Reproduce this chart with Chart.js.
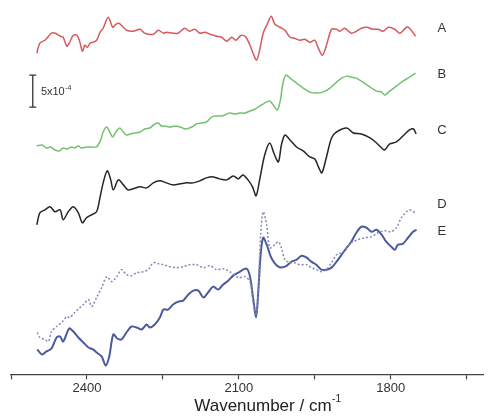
<!DOCTYPE html>
<html>
<head>
<meta charset="utf-8">
<script src="https://cdn.jsdelivr.net/npm/chart.js@4.4.1/dist/chart.umd.min.js"></script>
<style>
  html, body { margin: 0; padding: 0; background: #fff; }
  #wrap { width: 489px; height: 416px; position: relative; }
</style>
</head>
<body>
<div id="wrap"><canvas id="spectra"></canvas></div>
<script>
// wavenumber (cm-1), offset signal (a.u.; the scale bar = 32 a.u. = 5x10^-4)
const traceA = [[2499,322],[2493,332],[2483,335],[2470,342],[2463,342],[2453,339],[2447,338],[2440,329],[2434,333],[2427,340],
  [2420,340],[2415,335],[2409,324],[2404,330],[2399,328],[2394,332],[2388,333],[2381,335],[2374,343],[2368,347],
  [2358,358],[2349,348],[2343,351],[2337,352],[2328,348],[2322,345],[2309,344],[2295,346],[2286,342],[2269,341],
  [2259,345],[2249,342],[2243,343],[2230,342],[2220,342],[2207,347],[2197,344],[2187,346],[2177,342],[2167,343],
  [2157,341],[2144,339],[2134,338],[2124,334],[2114,338],[2106,335],[2095,340],[2086,338],[2078,330],[2072,322],
  [2065,315],[2059,325],[2052,342],[2045,350],[2036,359],[2029,351],[2019,348],[2009,345],[1999,338],[1990,337],
  [1980,335],[1970,336],[1960,333],[1950,335],[1944,328],[1935,320],[1927,330],[1917,346],[1907,346],[1901,344],
  [1891,347],[1878,342],[1868,344],[1858,347],[1847,348],[1836,346],[1825,346],[1815,344],[1805,348],[1792,346],
  [1782,342],[1769,348],[1763,347],[1751,339]];

const traceB = [[2499,229],[2489,230],[2480,227],[2472,228],[2463,225],[2455,224],[2447,227],[2439,226],[2430,228],[2424,227],
  [2417,229],[2411,227],[2401,228],[2391,228],[2381,228],[2373,235],[2368,243],[2361,248],[2355,243],[2349,238],
  [2343,243],[2335,247],[2328,243],[2322,240],[2315,241],[2305,242],[2295,243],[2286,246],[2276,247],[2266,251],
  [2259,252],[2253,249],[2246,249],[2236,248],[2226,249],[2216,248],[2205,246],[2193,248],[2184,251],[2174,252],
  [2164,253],[2154,258],[2144,259],[2134,259],[2128,260],[2118,262],[2108,261],[2098,262],[2088,262],[2078,264],
  [2068,266],[2059,269],[2049,272],[2039,274],[2032,270],[2024,265],[2018,275],[2013,292],[2007,300],[1999,297],
  [1986,292],[1973,287],[1960,283],[1947,282],[1934,283],[1920,287],[1907,293],[1897,297],[1887,299],[1878,298],
  [1868,297],[1855,293],[1841,288],[1828,284],[1818,283],[1812,280],[1802,284],[1789,289],[1776,294],[1763,298],
  [1751,302]];

const traceC = [[2499,150],[2493,162],[2483,165],[2473,168],[2463,163],[2453,165],[2447,155],[2437,163],[2427,168],[2417,162],
  [2409,152],[2401,157],[2391,160],[2381,163],[2374,178],[2368,192],[2360,204],[2353,195],[2348,185],[2338,195],
  [2328,190],[2319,185],[2309,186],[2295,188],[2282,187],[2269,192],[2256,194],[2243,192],[2230,190],[2216,191],
  [2203,192],[2190,192],[2177,194],[2164,197],[2151,198],[2138,196],[2124,195],[2111,199],[2101,196],[2092,200],
  [2082,195],[2073,188],[2066,179],[2059,195],[2049,220],[2039,232],[2031,222],[2022,213],[2016,230],[2009,240],
  [1999,235],[1986,228],[1973,224],[1960,218],[1950,216],[1942,207],[1936,202],[1927,218],[1917,237],[1907,243],
  [1887,247],[1874,242],[1858,241],[1841,237],[1828,232],[1816,226],[1812,225],[1802,231],[1789,233],[1776,239],
  [1763,245],[1755,246],[1750,241]];

const traceD = [[2498,42],[2493,37],[2483,35],[2476,33],[2470,43],[2460,48],[2450,52],[2440,58],[2434,57],[2424,62],
  [2414,67],[2407,70],[2397,75],[2391,68],[2381,77],[2371,87],[2361,98],[2351,93],[2341,98],[2332,105],
  [2322,100],[2312,99],[2302,102],[2289,103],[2279,105],[2269,112],[2259,111],[2249,110],[2236,108],[2223,107],
  [2210,108],[2197,110],[2184,110],[2170,107],[2157,109],[2144,105],[2131,106],[2118,103],[2101,97],[2088,98],
  [2078,93],[2072,73],[2066,57],[2062,83],[2057,140],[2052,163],[2045,150],[2039,127],[2029,130],[2022,133],
  [2016,127],[2009,115],[1999,112],[1990,112],[1980,110],[1966,110],[1957,107],[1947,105],[1937,103],[1927,105],
  [1917,112],[1907,120],[1897,122],[1887,127],[1878,132],[1865,135],[1851,137],[1838,138],[1825,142],[1812,144],
  [1799,143],[1789,147],[1779,157],[1769,163],[1763,165],[1756,163],[1751,162]];

const traceE = [[2498,25],[2489,20],[2480,23],[2470,26],[2460,37],[2453,38],[2447,33],[2435,46],[2427,43],[2417,37],
  [2407,32],[2397,27],[2388,25],[2381,22],[2371,18],[2363,9],[2356,18],[2348,40],[2340,36],[2332,35],
  [2322,42],[2312,48],[2302,47],[2292,45],[2282,50],[2276,47],[2266,50],[2256,57],[2249,65],[2240,65],
  [2230,70],[2220,73],[2210,74],[2200,80],[2190,84],[2180,84],[2170,77],[2161,82],[2151,88],[2141,85],
  [2131,90],[2121,94],[2111,99],[2101,102],[2085,106],[2078,98],[2072,77],[2066,58],[2062,80],[2057,120],
  [2052,137],[2045,130],[2036,117],[2022,108],[2009,108],[1996,113],[1986,115],[1976,119],[1966,117],[1957,113],
  [1947,110],[1937,105],[1927,105],[1917,107],[1907,113],[1897,120],[1887,127],[1878,133],[1868,142],[1858,148],
  [1848,147],[1838,143],[1828,145],[1818,140],[1809,133],[1799,128],[1792,125],[1786,130],[1776,131],[1766,137],
  [1756,143],[1749,145]];

const seriesNames = ['A', 'B', 'C', 'D', 'E'];
const seriesColors = ['#d65a5c', '#72c272', '#262626', '#8189b6', '#4c5a9c'];
const tickValues = [2550, 2400, 2250, 2100, 1950, 1800, 1650];
const tickLabels = [2400, 2100, 1800];
const scaleBar = [[2507, 268], [2507, 300]];
const axisTitle = 'Wavenumber / cm';
const axisTitleSup = '-1';
const scaleBarText = '5x10';
const scaleBarSup = '-4';

// where the trace letters and the scale-bar caption sit (data coordinates)
const letterPos = { A: [1699, 347], B: [1699, 301], C: [1699, 245], D: [1699, 170], E: [1699, 143] };
const scaleTextPos = [2491, 283];

const FONT = '"Liberation Sans", Arial, sans-serif';
const toXY = arr => arr.map(p => ({ x: p[0], y: p[1] }));
const traces = [traceA, traceB, traceC, traceD, traceE];

const datasets = traces.map((t, i) => ({
  label: seriesNames[i],
  data: toXY(t),
  borderColor: seriesColors[i],
  borderWidth: i === 4 ? 2 : 1.5,
  borderDash: i === 3 ? [2, 2] : [],
  pointRadius: 0,
  tension: 0.3,
  fill: false
}));

datasets.push({
  label: 'scale',
  data: toXY(scaleBar),
  borderColor: '#333',
  borderWidth: 1.3,
  pointStyle: 'line',
  pointRadius: 3.5,
  pointBorderColor: '#333',
  pointBorderWidth: 1.3,
  tension: 0
});

// text with a small raised superscript after it
function supText(ctx, main, sup, x, y, size, align) {
  ctx.font = size + 'px ' + FONT;
  const w1 = ctx.measureText(main).width;
  ctx.font = Math.round(size * 0.6) + 'px ' + FONT;
  const w2 = ctx.measureText(sup).width;
  const x0 = align === 'center' ? x - (w1 + w2) / 2 : x;
  ctx.textAlign = 'left';
  ctx.font = size + 'px ' + FONT;
  ctx.fillText(main, x0, y);
  ctx.font = Math.round(size * 0.6) + 'px ' + FONT;
  ctx.fillText(sup, x0 + w1 + 0.5, y - size * 0.38);
}

const textPlugin = {
  id: 'spectraText',
  afterDraw(chart) {
    const { ctx, chartArea, scales: { x, y } } = chart;
    ctx.save();
    ctx.fillStyle = '#333';
    ctx.textBaseline = 'middle';
    ctx.textAlign = 'center';
    ctx.font = '13px ' + FONT;
    seriesNames.forEach(n => {
      const p = letterPos[n];
      ctx.fillText(n, x.getPixelForValue(p[0]), y.getPixelForValue(p[1]));
    });
    supText(ctx, scaleBarText, scaleBarSup, x.getPixelForValue(scaleTextPos[0]), y.getPixelForValue(scaleTextPos[1]), 11, 'left');
    ctx.fillStyle = '#222';
    supText(ctx, axisTitle, axisTitleSup, (chartArea.left + chartArea.right) / 2 + 20, chart.height - 10, 17, 'center');
    ctx.restore();
  }
};

new Chart(document.getElementById('spectra'), {
  type: 'line',
  data: { datasets },
  plugins: [textPlugin],
  options: {
    responsive: true,
    maintainAspectRatio: false,
    animation: false,
    layout: { padding: { left: 11, right: 0, top: 5, bottom: 19 } },
    plugins: { legend: { display: false }, tooltip: { enabled: false } },
    scales: {
      x: {
        type: 'linear',
        reverse: true,
        min: 1616.5,
        max: 2550,
        afterBuildTicks: scale => { scale.ticks = tickValues.map(v => ({ value: v })); },
        ticks: {
          autoSkip: false,
          maxRotation: 0,
          padding: 1,
          color: '#333',
          font: { family: FONT, size: 13 },
          callback: v => tickLabels.includes(v) ? String(v) : ''
        },
        grid: { drawOnChartArea: false, drawTicks: true, tickLength: 5, color: '#444', tickWidth: 1.2 },
        border: { display: true, color: '#444', width: 1.2 },
        title: { display: false }
      },
      y: { display: false, min: 0, max: 370 }
    }
  }
});
</script>
</body>
</html>
